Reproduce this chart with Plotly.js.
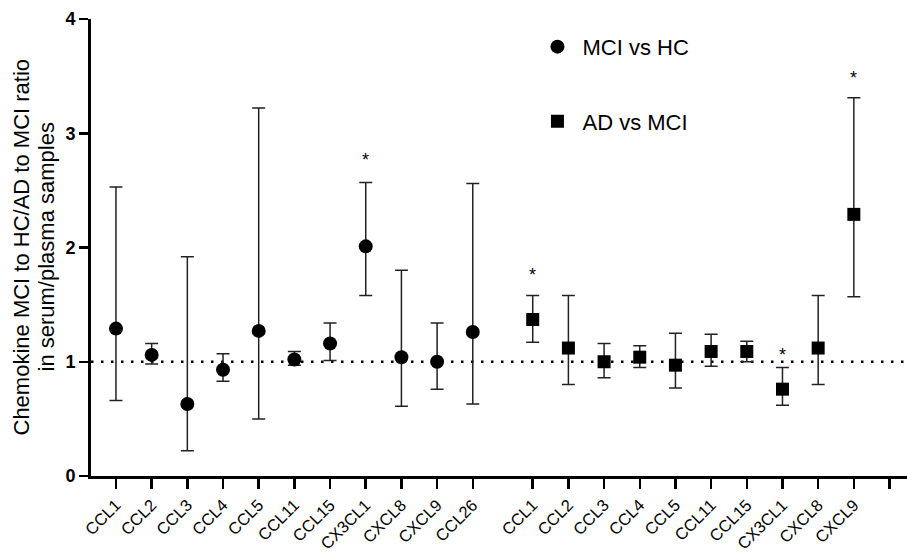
<!DOCTYPE html>
<html>
<head>
<meta charset="utf-8">
<script src="https://cdn.plot.ly/plotly-3.0.1.min.js"></script>
<style>html,body{margin:0;padding:0;background:#fff;}#chart{width:907px;height:554px;}</style>
</head>
<body>
<div id="chart"></div>
<script>
// Group 1: MCI vs HC
const cats1 = ["CCL1","CCL2","CCL3","CCL4","CCL5","CCL11","CCL15","CX3CL1","CXCL8","CXCL9","CCL26"];
const ratio1 = [1.29, 1.06, 0.63, 0.93, 1.27, 1.02, 1.16, 2.01, 1.04, 1.00, 1.26];
const upper1 = [2.53, 1.16, 1.92, 1.07, 3.22, 1.09, 1.34, 2.57, 1.80, 1.34, 2.56];
const lower1 = [0.66, 0.98, 0.22, 0.83, 0.50, 0.97, 1.01, 1.58, 0.61, 0.76, 0.63];
const sig1   = [0, 0, 0, 0, 0, 0, 0, 1, 0, 0, 0];

// Group 2: AD vs MCI
const cats2 = ["CCL1","CCL2","CCL3","CCL4","CCL5","CCL11","CCL15","CX3CL1","CXCL8","CXCL9"];
const ratio2 = [1.37, 1.12, 1.00, 1.04, 0.97, 1.09, 1.09, 0.76, 1.12, 2.29];
const upper2 = [1.58, 1.58, 1.16, 1.14, 1.25, 1.24, 1.18, 0.95, 1.58, 3.31];
const lower2 = [1.17, 0.80, 0.86, 0.95, 0.77, 0.96, 1.00, 0.62, 0.80, 1.57];
const sig2   = [1, 0, 0, 0, 0, 0, 0, 1, 0, 1];

const seriesNames = ["MCI vs HC", "AD vs MCI"];
const yTitleLines = ["Chemokine MCI to HC/AD to MCI ratio", "in serum/plasma samples"];
const yTicks = [0, 1, 2, 3, 4];
const refLine = 1;

// layout positions (category slots)
const GAP = 0.68;
const x1 = cats1.map((_, i) => i);
const x2 = cats2.map((_, j) => cats1.length + GAP + j);
const extraTick = cats1.length + GAP + cats2.length;

const errStyle = {color: '#222', thickness: 1.5, width: 6.5};

const tr1 = {
  type: 'scatter', mode: 'markers', name: seriesNames[0], legendgroup: 'g1',
  x: x1, y: ratio1,
  marker: {symbol: 'circle', size: 14, color: '#000'},
  error_y: Object.assign({type: 'data', symmetric: false,
    array: upper1.map((u, i) => u - ratio1[i]),
    arrayminus: lower1.map((l, i) => ratio1[i] - l)}, errStyle),
  cliponaxis: false
};
const tr2 = {
  type: 'scatter', mode: 'markers', name: seriesNames[1], legendgroup: 'g2',
  x: x2, y: ratio2,
  marker: {symbol: 'square', size: 13, color: '#000'},
  error_y: Object.assign({type: 'data', symmetric: false,
    array: upper2.map((u, i) => u - ratio2[i]),
    arrayminus: lower2.map((l, i) => ratio2[i] - l)}, errStyle),
  cliponaxis: false
};

const starFont = {size: 18, color: '#000', family: 'Liberation Sans, Arial'};
const annotations = [];
sig1.forEach((s, i) => { if (s) annotations.push({x: x1[i], y: upper1[i], text: '*', showarrow: false, yanchor: 'middle', yshift: 22, font: starFont}); });
sig2.forEach((s, i) => { if (s) annotations.push({x: x2[i], y: upper2[i], text: '*', showarrow: false, yanchor: 'middle', yshift: (upper2[i] < 1.05 ? 12 : 20), font: starFont}); });

// y-axis title as two rotated lines (tighter line spacing than the built-in title)
const plotL = 91, plotW = 907 - 91;
const titleCentersPx = [21, 46];
yTitleLines.forEach((t, k) => annotations.push({
  xref: 'paper', yref: 'paper', x: (titleCentersPx[k] - plotL) / plotW, y: 0.5,
  xanchor: 'center', yanchor: 'middle', text: t, textangle: -90, showarrow: false,
  font: {size: 22, color: '#000', family: 'Liberation Sans, Arial'}
}));

const layout = {
  width: 907, height: 554,
  margin: {l: 91, r: 0, t: 19, b: 78},
  paper_bgcolor: '#fff', plot_bgcolor: '#fff',
  font: {family: 'Liberation Sans, Arial, sans-serif', color: '#000'},
  showlegend: true,
  legend: {x: 0.541, y: 0.985, xanchor: 'left', yanchor: 'top', traceorder: 'grouped', tracegroupgap: 43,
           font: {size: 22, color: '#000'}, itemwidth: 40, bgcolor: 'rgba(0,0,0,0)'},
  xaxis: {
    range: [-0.70, 22.17], showgrid: false, zeroline: false,
    showline: true, linecolor: '#000', linewidth: 3,
    tickmode: 'array', tickvals: x1.concat(x2).concat([extraTick]),
    ticktext: cats1.concat(cats2).concat(['']),
    ticks: 'outside', ticklen: 10, tickwidth: 2.5, tickcolor: '#000',
    tickangle: -45, tickfont: {size: 16.5, color: '#000'}
  },
  yaxis: {
    range: [0, 4], showgrid: false, zeroline: false,
    showline: true, linecolor: '#000', linewidth: 3,
    tickmode: 'array', tickvals: yTicks, ticktext: yTicks.map(v => '<b>' + v + '</b>'),
    ticks: 'outside', ticklen: 9, tickwidth: 2.5, tickcolor: '#000',
    tickfont: {size: 18, color: '#000', family: 'Liberation Sans, Arial'}
  },
  shapes: [{type: 'line', xref: 'paper', x0: 0, x1: 1, yref: 'y', y0: refLine, y1: refLine,
            line: {color: '#000', width: 2.5, dash: '2.5px,7.5px'}, layer: 'below'}],
  annotations: annotations
};

Plotly.newPlot('chart', [tr1, tr2], layout, {displayModeBar: false, staticPlot: true});
</script>
</body>
</html>
